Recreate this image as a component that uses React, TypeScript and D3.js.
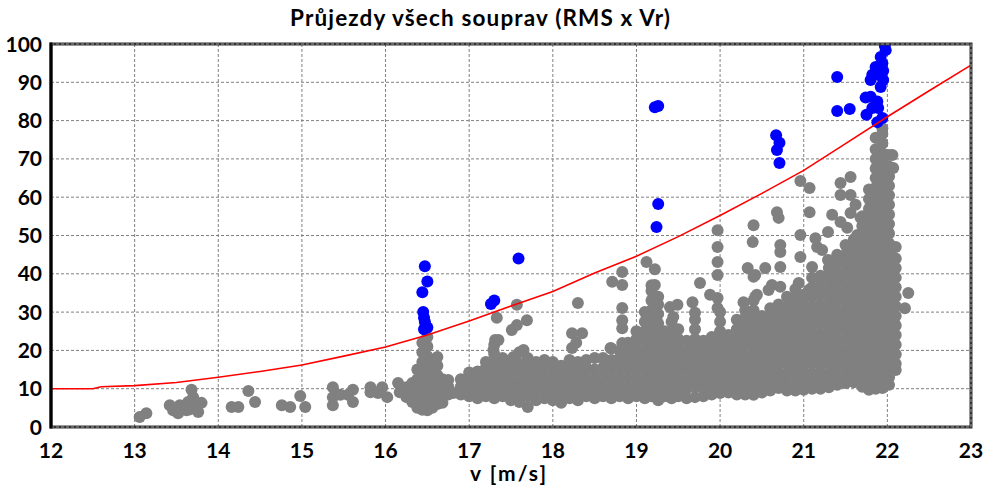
import React from "react";
import * as d3 from "d3";

const W = 983;
const H = 488;
const M = { left: 51, right: 12, top: 44, bottom: 61 };

const xTicks = [12, 13, 14, 15, 16, 17, 18, 19, 20, 21, 22, 23];
const yTicks = [0, 10, 20, 30, 40, 50, 60, 70, 80, 90, 100];

// red limit curve (v, RMS)
const limitV = [12, 12.5, 12.6, 13, 13.5, 14, 14.5, 15, 15.5, 16, 16.5, 17, 17.5, 18, 18.5, 19, 19.5, 20, 20.5, 21, 21.5, 22, 22.5, 23];
const limitY = [10, 10, 10.5, 10.8, 11.6, 13, 14.5, 16.2, 18.5, 20.9, 24, 27.7, 31.6, 35.4, 40.2, 44.6, 49.7, 55.2, 61, 67, 74, 81, 87.8, 94.5];

// passes above the limit
const bluePoints: [number, number][] = [
  [16.47, 42], [16.5, 38], [16.44, 35.2], [16.45, 30], [16.46, 28.5], [16.47, 27.5],
  [16.48, 26.5], [16.46, 25.5], [16.5, 26],
  [17.26, 32.1], [17.3, 33], [17.59, 44],
  [19.22, 83.5], [19.26, 83.8], [19.26, 58.2], [19.24, 52.2],
  [20.67, 76.2], [20.71, 74.2], [20.68, 72.3], [20.71, 68.9],
  [21.4, 91.4], [21.4, 82.5], [21.55, 83], [21.75, 81.5],
  [21.98, 98.4], [21.92, 96.6], [21.94, 95], [21.86, 94], [21.95, 93], [21.82, 92],
  [21.8, 90.6], [21.95, 90.6], [21.92, 88.8], [21.74, 86], [21.8, 86.2], [21.88, 85],
  [21.82, 83.3], [21.89, 83.3], [21.88, 79.6], [21.94, 80.7], [21.97, 99.5], [21.9, 92]
];

// isolated passes below the limit
const grayScatter: [number, number][] = [
  [13.06, 2.6], [13.14, 3.6], [13.42, 5.7], [13.46, 4.4], [13.52, 3.6], [13.54, 5.7],
  [13.58, 5.2], [13.62, 4.4], [13.64, 6.5], [13.68, 9.7], [13.7, 7.8], [13.74, 6.3],
  [13.76, 3.9], [13.8, 6.3], [13.66, 4.6], [14.16, 5.2], [14.24, 5.2], [14.36, 9.4],
  [14.44, 6.5], [14.76, 5.7], [14.86, 5.2], [14.98, 8.1], [15.04, 5.2], [15.37, 10.4],
  [15.37, 7.8], [15.37, 5.7], [15.46, 8.4], [15.55, 8.4], [15.61, 9.7], [15.61, 6.5],
  [15.82, 10.4], [15.82, 9.1], [15.91, 8.9], [15.96, 10.4], [16.02, 7.8], [16.15, 11.5],
  [16.17, 9.1],
  [17.29, 20.1], [17.31, 22.7], [17.33, 28.5], [17.35, 22.7], [17.51, 25.3], [17.57, 26.6],
  [17.57, 31.9], [17.69, 27.9], [17.65, 20.1], [17.53, 18.3],
  [18.3, 32.4], [18.23, 24.5], [18.35, 24.5], [18.23, 20.6], [18.28, 22],
  [18.71, 37.9], [18.83, 40.5], [18.83, 37.1], [18.83, 31.1], [18.83, 27.9], [18.83, 25.8],
  [18.83, 21.9], [18.69, 20.6],
  [19.12, 43.1], [19.22, 41.2], [19.22, 37.1],
  [19.4, 31.3], [19.49, 31.9], [19.44, 28.7], [19.67, 32.6], [19.7, 29.8], [19.76, 37.6],
  [19.88, 34.5], [19.97, 51.4], [19.97, 47], [19.97, 43.1], [19.97, 39.7], [19.97, 33.7],
  [19.97, 31.1],
  [20.4, 52.7], [20.39, 48.3], [20.33, 41.5], [20.42, 39.7], [20.44, 34.5], [20.28, 32.6],
  [20.4, 39.2], [20.68, 56.1], [20.7, 54.6], [20.72, 47.5], [20.72, 45.7], [20.72, 41.8],
  [20.54, 41.5], [20.62, 37.1], [20.58, 35.8], [20.72, 36.6], [20.42, 34],
  [20.96, 64.2], [21.07, 62.4], [21.07, 56.1], [20.96, 50.1], [20.96, 44.4], [20.94, 37.6],
  [21.06, 35.8], [21.1, 41.8], [21.16, 47], [21.22, 46.2], [21.14, 49.3], [21.29, 50.9],
  [21.29, 43.6], [21.44, 63.7], [21.56, 65.3], [21.44, 60.6], [21.56, 60.6], [21.62, 58],
  [21.34, 55.4], [21.68, 54.6], [21.44, 53.5], [21.56, 55.9], [21.52, 52], [21.64, 50.1],
  [22.25, 35], [22.21, 31], [22.06, 71], [22.07, 67.6]
];

// dense part of the cloud, read column by column (v, RMS values)
const grayColumns: [number, number[]][] = [
  [16.25, [7.8, 10.4]],
  [16.32, [6.5, 9, 11.5]],
  [16.38, [5, 7.5, 10, 12.5, 15]],
  [16.44, [4.5, 7, 9.5, 12, 14.5, 17, 19.5, 22]],
  [16.5, [4.4, 6, 8.5, 11, 13.5, 16, 18.5, 21, 23.5]],
  [16.56, [5, 7.5, 10, 12.5, 15, 17.5]],
  [16.62, [6, 8.5, 11, 13.5, 16, 18.3]],
  [16.68, [6.3, 9, 11.5, 12.5]],
  [16.75, [8.5, 10.5, 12.3]],
  [16.81, [8.9]],
  [16.9, [8.5, 10.5, 12.5]],
  [17.0, [8, 10.5, 13, 14.2]],
  [17.1, [7.5, 9.5, 12, 14.5]],
  [17.2, [8, 10.5, 13, 15.5, 17]],
  [17.3, [7.5, 9, 11.5, 14, 16.5, 19, 21.5]],
  [17.4, [8, 10.5, 13, 15.5, 18]],
  [17.5, [7, 9.5, 12, 14.5, 17]],
  [17.6, [6.5, 9, 11.5, 14, 16.5, 19.5]],
  [17.7, [5.2, 8, 10.5, 13, 15.5, 18]],
  [17.8, [7, 9.5, 12, 14.5, 17]],
  [17.9, [7.5, 10, 12.5, 15, 17.5]],
  [18.0, [7, 9.5, 12, 14.5, 17]],
  [18.1, [6.3, 8.5, 11, 13.5, 16]],
  [18.2, [7.5, 10, 12.5, 15, 17.5]],
  [18.3, [7, 9.5, 12, 14.5, 17]],
  [18.4, [8, 10.5, 13, 15.5, 17.5]],
  [18.5, [7.5, 10, 12.5, 15, 18]],
  [18.6, [8, 10.5, 13, 15.5, 18]],
  [18.7, [7.5, 10, 12.5, 15, 17.5, 20.5]],
  [18.8, [8, 10.5, 13, 15.5, 18, 20]],
  [18.9, [7.5, 10, 12.5, 15, 17.5, 20, 22]],
  [19.0, [8, 10.5, 13, 15.5, 18, 20.5, 23, 25]],
  [19.1, [7.5, 10, 12.5, 15, 17.5, 20, 22.5, 25, 27.5, 30]],
  [19.18, [8, 10.5, 13, 15.5, 18, 20.5, 23, 25.5, 28, 30.5, 33, 35.5, 37]],
  [19.26, [7, 9.5, 12, 14.5, 17, 19.5, 22, 24.5, 27, 29.5, 32, 34]],
  [19.34, [8, 10.5, 13, 15.5, 18, 20.5, 23, 25]],
  [19.42, [7.5, 10, 12.5, 15, 17.5, 20, 22.5, 25, 27.5]],
  [19.5, [8, 10.5, 13, 15.5, 18, 20.5, 23, 25.5]],
  [19.6, [7.5, 10, 12.5, 15, 17.5, 20, 22.5]],
  [19.7, [7.8, 10.5, 13, 15.5, 18, 20.5, 23, 25.5, 28]],
  [19.8, [8, 10, 12.5, 15, 17.5, 20, 22.5]],
  [19.9, [8.5, 11, 13.5, 16, 18.5, 21, 23.5]],
  [20.0, [8.9, 10, 12.5, 15, 17.5, 20, 22.5, 25, 27.5, 30]],
  [20.1, [9, 11.5, 14, 16.5, 19, 21.5, 24]],
  [20.2, [8.5, 10.5, 13, 15.5, 18, 20.5, 23, 25.5, 28]],
  [20.3, [8.5, 11, 13.5, 16, 18.5, 21, 23.5, 26, 28.5, 30.5]],
  [20.4, [8.4, 10.5, 13, 15.5, 18, 20.5, 23, 25.5, 28, 30.5, 33]],
  [20.5, [9, 11.5, 14, 16.5, 19, 21.5, 24, 26.5, 29]],
  [20.6, [9.5, 11, 13.5, 16, 18.5, 21, 23.5, 26, 28.5, 31]],
  [20.7, [10.2, 12, 14.5, 17, 19.5, 22, 24.5, 27, 29.5, 32]],
  [20.8, [9.5, 11.5, 14, 16.5, 19, 21.5, 24, 26.5, 29, 31.5, 34]],
  [20.9, [9.5, 11, 13.5, 16, 18.5, 21, 23.5, 26, 28.5, 31, 33.5, 36]],
  [21.0, [9.7, 12, 14.5, 17, 19.5, 22, 24.5, 27, 29.5, 32, 34.5]],
  [21.1, [10, 11.5, 14, 16.5, 19, 21.5, 24, 26.5, 29, 31.5, 34, 36.5, 39]],
  [21.2, [10, 12, 14.5, 17, 19.5, 22, 24.5, 27, 29.5, 32, 34.5, 37, 39.5]],
  [21.3, [10.4, 11.5, 14, 16.5, 19, 21.5, 24, 26.5, 29, 31.5, 34, 36.5, 39, 41.5, 43.5]],
  [21.4, [11, 13, 15.5, 18, 20.5, 23, 25.5, 28, 30.5, 33, 35.5, 38, 40.5, 43, 45]],
  [21.5, [11.5, 12.5, 15, 17.5, 20, 22.5, 25, 27.5, 30, 32.5, 35, 37.5, 40, 42.5, 45, 47.5]],
  [21.6, [11.7, 14, 16.5, 19, 21.5, 24, 26.5, 29, 31.5, 34, 36.5, 39, 41.5, 44, 46.5, 49]],
  [21.7, [10.5, 12.5, 15, 17.5, 20, 22.5, 25, 27.5, 30, 32.5, 35, 37.5, 40, 42.5, 45, 47.5, 50, 52.5, 55]],
  [21.78, [9.7, 12, 14.5, 17, 19.5, 22, 24.5, 27, 29.5, 32, 34.5, 37, 39.5, 42, 44.5, 47, 49.5, 52, 54.5, 57, 59.5, 62]],
  [21.86, [10, 12.5, 15, 17.5, 20, 22.5, 25, 27.5, 30, 32.5, 35, 37.5, 40, 42.5, 45, 47.5, 50, 52.5, 55, 57.5, 60, 62.5, 65, 67.5, 70, 72.5, 75.5]],
  [21.94, [10.2, 11.5, 14, 16.5, 19, 21.5, 24, 26.5, 29, 31.5, 34, 36.5, 39, 41.5, 44, 46.5, 49, 51.5, 54, 56.5, 59, 61.5, 64, 66.5, 69, 71.5, 74, 76.5, 78]],
  [22.02, [11, 13, 15.5, 18, 20.5, 23, 25.5, 28, 30.5, 33, 35.5, 38, 40.5, 43, 45.5, 48, 50.5, 53, 55.5, 58, 60.5, 63, 65.5, 68, 71]],
  [22.1, [14.9, 16.5, 19, 21.5, 24, 26.5, 29, 31.5, 34, 36.5, 39, 41.5, 44, 47]]
];

const FONT = "Lato, 'Open Sans', sans-serif";

export default function App() {
  const x = d3.scaleLinear().domain([12, 23]).range([M.left, W - M.right]);
  const y = d3.scaleLinear().domain([0, 100]).range([H - M.bottom, M.top]);

  const grayPoints: [number, number][] = [
    ...grayColumns.flatMap(([v, ys]) => ys.map((r) => [v, r] as [number, number])),
    ...grayScatter
  ];

  const line = d3
    .line<number>()
    .x((v) => x(v))
    .y((_, i) => y(limitY[i]));

  const x0 = x(12), x1 = x(23), y0 = y(0), y1 = y(100);

  return (
    <div style={{ position: "absolute", left: 0, top: 0 }}>
      <svg width={W} height={H} style={{ display: "block", background: "#fff" }}>
        <text x={480} y={26} textAnchor="middle" fontFamily={FONT} fontWeight="bold" fontSize={22.5}
          textLength={380} lengthAdjust="spacing">
          Průjezdy všech souprav (RMS x Vr)
        </text>

        <g stroke="#808080" strokeWidth={1} strokeDasharray="3,2">
          {xTicks.slice(1, -1).map((t) => (
            <line key={"vx" + t} x1={x(t)} x2={x(t)} y1={y1} y2={y0} />
          ))}
          {yTicks.slice(1, -1).map((t) => (
            <line key={"hy" + t} x1={x0} x2={x1} y1={y(t)} y2={y(t)} />
          ))}
        </g>

        <g clipPath="url(#plot)">
          <defs>
            <clipPath id="plot">
              <rect x={x0} y={y1} width={x1 - x0} height={y0 - y1} />
            </clipPath>
          </defs>
          {grayPoints.map(([v, r], i) => (
            <circle key={"g" + i} cx={x(v)} cy={y(r)} r={6} fill="#808080" />
          ))}
          {bluePoints.map(([v, r], i) => (
            <circle key={"b" + i} cx={x(v)} cy={y(r)} r={6} fill="#0000ff" />
          ))}
          <path d={line(limitV) ?? ""} fill="none" stroke="#ff0000" strokeWidth={1.6} />
        </g>

        {/* frame */}
        <rect x={x0} y={y1} width={x1 - x0} height={y0 - y1} fill="none" stroke="#333" strokeWidth={3} />
        <rect x={x0} y={y1} width={x1 - x0} height={y0 - y1} fill="none" stroke="#9a9a9a" strokeWidth={1} strokeDasharray="3,2" />
        <line x1={x0} x2={x0} y1={y1 - 1.5} y2={y0 + 1.5} stroke="#000" strokeWidth={3} />

        <g fontFamily={FONT} fontWeight="bold" fontSize={21} fill="#000">
          {yTicks.map((t) => (
            <text key={"yl" + t} x={42} y={y(t) + 7.5} textAnchor="end">
              {t}
            </text>
          ))}
          {xTicks.map((t) => (
            <text key={"xl" + t} x={x(t)} y={458} textAnchor="middle">
              {t}
            </text>
          ))}
        </g>

        <text x={508} y={481} textAnchor="middle" fontFamily={FONT} fontWeight="bold" fontSize={21}
          textLength={76} lengthAdjust="spacing">
          v [m/s]
        </text>
      </svg>
    </div>
  );
}
